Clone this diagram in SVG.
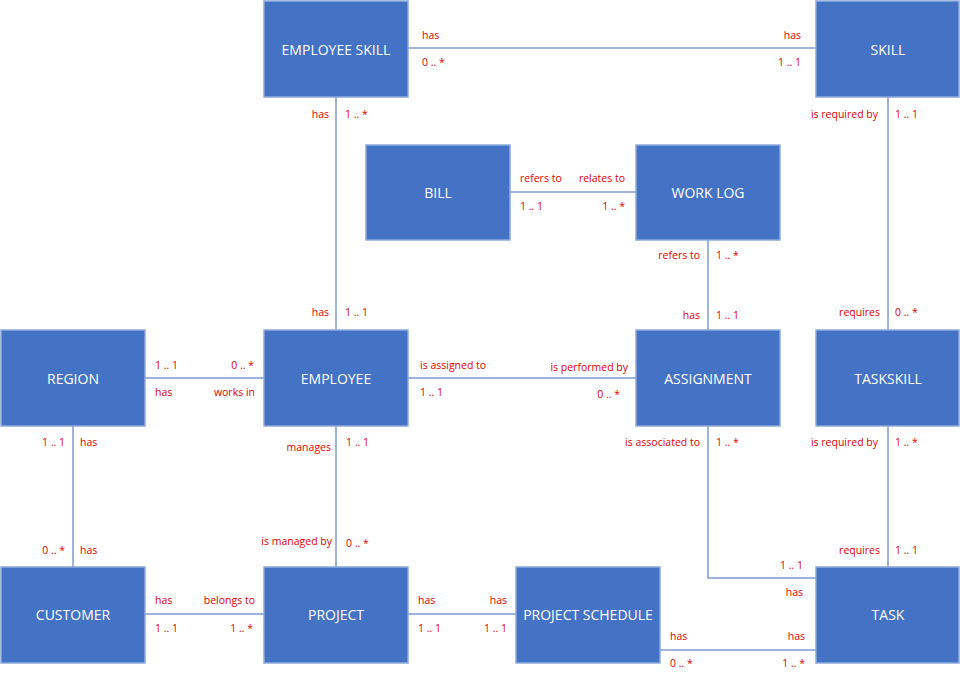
<svg xmlns="http://www.w3.org/2000/svg" width="960" height="678" viewBox="0 0 960 678">
  <style>
    .box { fill: #4472C4; stroke: #8FAADC; stroke-width: 1.5; }
    .name { fill: #FFFFFF; font-family: "Open Sans", "Liberation Sans", sans-serif; font-size: 14px; text-anchor: middle; dominant-baseline: central; }
    .conn { fill: none; stroke: #7F9BD0; stroke-width: 1.5; }
    .lbl { fill: #E00000; font-family: "Open Sans", "Liberation Sans", sans-serif; font-size: 10.5px; dominant-baseline: central; }
    .e { text-anchor: end; }
  </style>
  <rect width="960" height="678" fill="#FFFFFF"/>

  <!-- relationship lines -->
  <g id="connectors">
    <path class="conn" d="M408 48 H816"/>
    <path class="conn" d="M336 97 V330"/>
    <path class="conn" d="M888 97 V330"/>
    <path class="conn" d="M510 192 H636"/>
    <path class="conn" d="M708 240 V330"/>
    <path class="conn" d="M145 378 H264"/>
    <path class="conn" d="M408 378 H636"/>
    <path class="conn" d="M73 426 V567"/>
    <path class="conn" d="M336 426 V567"/>
    <path class="conn" d="M708 426 V578 H816"/>
    <path class="conn" d="M888 426 V567"/>
    <path class="conn" d="M145 614 H264"/>
    <path class="conn" d="M408 614 H516"/>
    <path class="conn" d="M660 650 H816"/>
  </g>

  <!-- entities -->
  <g id="employee-skill"><rect class="box" x="264" y="1" width="144" height="96"/><text class="name" x="336" y="49">EMPLOYEE SKILL</text></g>
  <g id="skill"><rect class="box" x="816" y="1" width="143" height="96"/><text class="name" x="888" y="49">SKILL</text></g>
  <g id="bill"><rect class="box" x="366" y="145" width="144" height="95"/><text class="name" x="438" y="192">BILL</text></g>
  <g id="work-log"><rect class="box" x="636" y="145" width="144" height="95"/><text class="name" x="708" y="192">WORK LOG</text></g>
  <g id="region"><rect class="box" x="1" y="330" width="144" height="96"/><text class="name" x="73" y="378">REGION</text></g>
  <g id="employee"><rect class="box" x="264" y="330" width="144" height="96"/><text class="name" x="336" y="378">EMPLOYEE</text></g>
  <g id="assignment"><rect class="box" x="636" y="330" width="144" height="96"/><text class="name" x="708" y="378">ASSIGNMENT</text></g>
  <g id="taskskill"><rect class="box" x="816" y="330" width="143" height="96"/><text class="name" x="888" y="378">TASKSKILL</text></g>
  <g id="customer"><rect class="box" x="1" y="567" width="144" height="96"/><text class="name" x="73" y="614">CUSTOMER</text></g>
  <g id="project"><rect class="box" x="264" y="567" width="144" height="96"/><text class="name" x="336" y="614">PROJECT</text></g>
  <g id="project-schedule"><rect class="box" x="516" y="567" width="144" height="96"/><text class="name" x="588" y="614">PROJECT SCHEDULE</text></g>
  <g id="task"><rect class="box" x="816" y="567" width="143" height="96"/><text class="name" x="888" y="614">TASK</text></g>

  <!-- roles and cardinalities -->
  <g id="labels">
    <text class="lbl" x="422" y="35">has</text>
    <text class="lbl" x="422" y="62">0 .. *</text>
    <text class="lbl e" x="801" y="35">has</text>
    <text class="lbl e" x="801" y="62">1 .. 1</text>

    <text class="lbl e" x="329" y="114">has</text>
    <text class="lbl" x="345" y="114">1 .. *</text>
    <text class="lbl e" x="878" y="114">is required by</text>
    <text class="lbl" x="895" y="114">1 .. 1</text>

    <text class="lbl" x="520" y="178">refers to</text>
    <text class="lbl e" x="625" y="178">relates to</text>
    <text class="lbl" x="520" y="206">1 .. 1</text>
    <text class="lbl e" x="625" y="206">1 .. *</text>

    <text class="lbl e" x="700" y="255">refers to</text>
    <text class="lbl" x="716" y="255">1 .. *</text>
    <text class="lbl e" x="329" y="312">has</text>
    <text class="lbl" x="345" y="312">1 .. 1</text>
    <text class="lbl e" x="700" y="315">has</text>
    <text class="lbl" x="716" y="315">1 .. 1</text>
    <text class="lbl e" x="880" y="312">requires</text>
    <text class="lbl" x="895" y="312">0 .. *</text>

    <text class="lbl" x="155" y="365">1 .. 1</text>
    <text class="lbl e" x="254" y="365">0 .. *</text>
    <text class="lbl" x="155" y="392">has</text>
    <text class="lbl e" x="255" y="392">works in</text>

    <text class="lbl" x="420" y="365">is assigned to</text>
    <text class="lbl e" x="628" y="367">is performed by</text>
    <text class="lbl" x="420" y="392">1 .. 1</text>
    <text class="lbl e" x="620" y="394">0 .. *</text>

    <text class="lbl e" x="65" y="442">1 .. 1</text>
    <text class="lbl" x="80" y="442">has</text>
    <text class="lbl e" x="65" y="550">0 .. *</text>
    <text class="lbl" x="80" y="550">has</text>

    <text class="lbl e" x="331" y="447">manages</text>
    <text class="lbl" x="346" y="442">1 .. 1</text>
    <text class="lbl e" x="332" y="541">is managed by</text>
    <text class="lbl" x="346" y="543">0 .. *</text>

    <text class="lbl e" x="700" y="442">is associated to</text>
    <text class="lbl" x="716" y="442">1 .. *</text>
    <text class="lbl e" x="803" y="565">1 .. 1</text>
    <text class="lbl e" x="803" y="592">has</text>

    <text class="lbl e" x="878" y="442">is required by</text>
    <text class="lbl" x="895" y="442">1 .. *</text>
    <text class="lbl e" x="880" y="550">requires</text>
    <text class="lbl" x="895" y="550">1 .. 1</text>

    <text class="lbl" x="155" y="600">has</text>
    <text class="lbl e" x="255" y="600">belongs to</text>
    <text class="lbl" x="155" y="628">1 .. 1</text>
    <text class="lbl e" x="253" y="628">1 .. *</text>

    <text class="lbl" x="418" y="600">has</text>
    <text class="lbl e" x="507" y="600">has</text>
    <text class="lbl" x="418" y="628">1 .. 1</text>
    <text class="lbl e" x="507" y="628">1 .. 1</text>

    <text class="lbl" x="670" y="636">has</text>
    <text class="lbl e" x="805" y="636">has</text>
    <text class="lbl" x="670" y="663">0 .. *</text>
    <text class="lbl e" x="805" y="663">1 .. *</text>
  </g>
</svg>
